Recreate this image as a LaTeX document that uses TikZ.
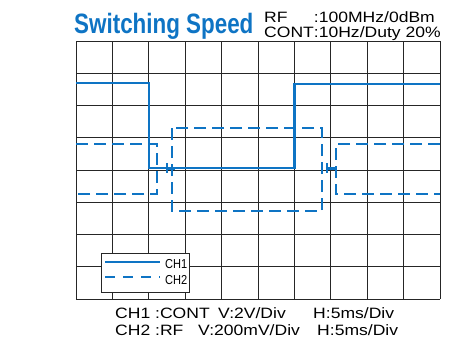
\documentclass[tikz,border=0pt]{standalone}
\usepackage{fontspec}
\setmainfont{Liberation Sans}
\newfontfamily\infofont{Liberation Sans}[FakeStretch=1.17]
\newfontfamily\legfont{Liberation Sans}[FakeStretch=0.85]
\usetikzlibrary{arrows}
\definecolor{scopeblue}{HTML}{0E74C4}
\tikzset{
  gridline/.style = {draw=black!85, line width=0.9pt},
  ch_one/.style = {draw=scopeblue, line width=2.2pt},
  ch_two/.style = {ch_one, dash pattern=on 12pt off 6pt},
  txt/.style = {anchor=base west, inner sep=0pt},
  info/.style = {txt, font=\infofont\fontsize{15}{15.5}\selectfont}}

\begin{document}
\begin{tikzpicture}[x=1pt,y=-1pt]
 \tikzstyle{title}=[txt, text=scopeblue, font=\bfseries\fontsize{28}{30}\selectfont]
 \tikzstyle{leg}=[txt, font=\legfont\fontsize{13}{14}\selectfont]
\useasboundingbox (0,0) rectangle (454,338);

% screen grid
\foreach \i in {0,...,10}
  \draw[gridline] ({76+36.4*\i},41) -- ({76+36.4*\i},299);
\foreach \j in {0,...,8}
  \draw[gridline] (76,{41+32.25*\j}) -- (440,{41+32.25*\j});

% traces
\draw[ch_one] (76,83) -- (148.8,83) -- (148.8,168) -- (294.4,168)
  -- (294.4,84) -- (440,84);
\draw[ch_two] (76,144) -- (157,144) -- (157,194) -- (76,194);
\draw[ch_two] (172,128) rectangle (322,211);
\draw[ch_two] (440,144) -- (336,144) -- (336,194) -- (440,194);

% trigger marks
\draw[ch_one] (167,163) -- (167,173);
\draw[ch_one, line width=3pt] (167,168) -- (175,168);
\draw[ch_one] (327,163) -- (327,173);
\draw[ch_one, line width=3pt] (327,168) -- (335,168);

% legend
\draw[gridline, fill=white] (101,253) rectangle (189,292);
\coordinate (l1a) at (105,262);
\coordinate (l1b) at (160,262);
\coordinate (l2a) at (105,277);
\coordinate (l2b) at (160,277);
\draw[ch_one] (l1a) -- (l1b);
\draw[ch_one, dash pattern=on 10pt off 8pt] (l2a) -- (l2b);
\node[leg] (ch_a) at (165,268.5) {CH1};
\node[leg] (ch_b) at (165,284.5) {CH2};

% headings
\node[title] (ttl) at (74,33) {\scalebox{0.8}[1]{Switching Speed}};
\node[info] (src) at (264,22) {\begin{tabular}[t]{@{}l@{}l@{}}
  RF & :100MHz/0dBm\\ CONT & :10Hz/Duty 20\%\end{tabular}};

\node[info] (c1) at (115,318) {CH1 :CONT};
\node[info] (c1_v) at (218,318) {V:2V/Div};
\node[info] (c1_h) at (313,318) {H:5ms/Div};
\node[info] (c2) at (115,335) {CH2 :RF};
\node[info] (c2_v) at (198,335) {V:200mV/Div};
\node[info] (c2_h) at (317,335) {H:5ms/Div};
\end{tikzpicture}
\end{document}
